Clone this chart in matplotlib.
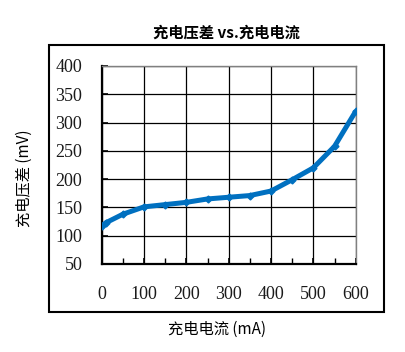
import matplotlib
matplotlib.use('Agg')
import matplotlib.pyplot as plt
from matplotlib.patches import Rectangle
from matplotlib.ticker import MultipleLocator

plt.rcParams['font.family'] = ['Noto Sans CJK SC', 'DejaVu Sans']

# Data
current_ma = [0, 10, 50, 100, 150, 200, 250, 300, 350, 400, 450, 500, 550, 600]
voltage_diff_mv = [117, 123, 138, 151, 155, 159, 165, 168, 171, 179, 199, 220, 258, 320]
x_ticks = [0, 100, 200, 300, 400, 500, 600]
y_ticks = [50, 100, 150, 200, 250, 300, 350, 400]

title = '充电压差 vs.充电电流'
x_label = '充电电流 (mA)'
y_label = '充电压差 (mV)'

fig = plt.figure(figsize=(4.06, 3.52), dpi=100)

# Outer chart border
fig.patches.append(Rectangle((0.1207, 0.1136), 0.8251, 0.7586, transform=fig.transFigure,
                             fill=False, edgecolor='black', linewidth=1.5, zorder=0))

ax = fig.add_axes([0.2505, 0.25, 0.6256, 0.5625])
ax.plot(current_ma, voltage_diff_mv, color='#0070C0', linewidth=3.6,
        marker='D', markersize=3.5, solid_capstyle='butt', zorder=3)

ax.set_xlim(0, 600)
ax.set_ylim(50, 400)
ax.set_xticks(x_ticks)
ax.set_yticks(y_ticks)
ax.xaxis.set_minor_locator(MultipleLocator(50))
ax.grid(True, which='major', color='black', linewidth=0.9)

for side in ['left', 'bottom']:
    ax.spines[side].set_linewidth(1.6)
for side in ['top', 'right']:
    ax.spines[side].set_color('#808080')
    ax.spines[side].set_linewidth(1.0)

ax.tick_params(axis='both', which='major', direction='in', length=4, width=1.2)
ax.tick_params(axis='x', which='minor', direction='in', length=4, width=1.0)
ax.tick_params(axis='y', pad=14)
ax.tick_params(axis='x', pad=16)
for lbl in ax.get_xticklabels() + ax.get_yticklabels():
    lbl.set_fontfamily('Liberation Serif')
    lbl.set_fontsize(13)
    lbl.set_color('#1a1a1a')

fig.text(0.558, 0.908, title, ha='center', va='center', fontsize=11, fontweight='bold')
fig.text(0.534, 0.065, x_label, ha='center', va='center', fontsize=11)
fig.text(0.059, 0.494, y_label, ha='center', va='center', fontsize=11, rotation=90)

fig.savefig('out.png', dpi=100)
plt.close(fig)
